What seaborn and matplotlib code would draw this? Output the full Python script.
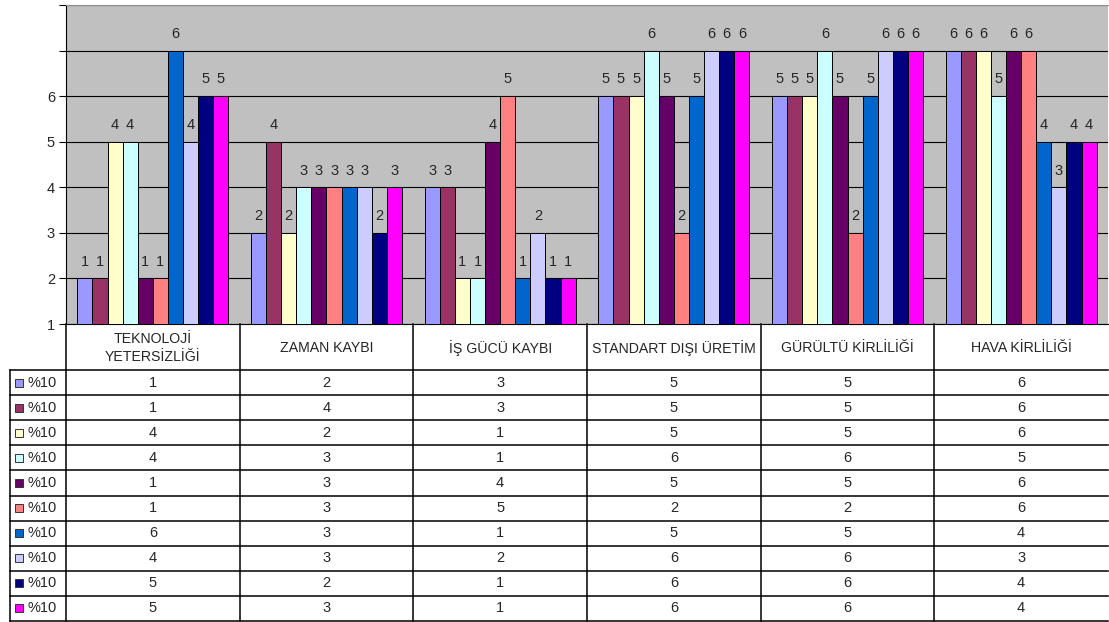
import pandas as pd
import numpy as np
import matplotlib
matplotlib.use('Agg')
import matplotlib.pyplot as plt
import seaborn as sns

# categories (table header / x groups)
categories = ['TEKNOLOJİ\nYETERSİZLİĞİ', 'ZAMAN KAYBI', 'İŞ GÜCÜ KAYBI',
              'STANDART DIŞI ÜRETİM', 'GÜRÜLTÜ KİRLİLİĞİ', 'HAVA KİRLİLİĞİ']

# ten series, all named "%10" in the legend column
series_names = ['%10'] * 10
s1 = [1, 2, 3, 5, 5, 6]
s2 = [1, 4, 3, 5, 5, 6]
s3 = [4, 2, 1, 5, 5, 6]
s4 = [4, 3, 1, 6, 6, 5]
s5 = [1, 3, 4, 5, 5, 6]
s6 = [1, 3, 5, 2, 2, 6]
s7 = [6, 3, 1, 5, 5, 4]
s8 = [4, 3, 2, 6, 6, 3]
s9 = [5, 2, 1, 6, 6, 4]
s10 = [5, 3, 1, 6, 6, 4]
series = [s1, s2, s3, s4, s5, s6, s7, s8, s9, s10]

colors = ['#9999FF', '#993366', '#FFFFCC', '#CCFFFF', '#660066',
          '#FF8080', '#0066CC', '#CCCCFF', '#000080', '#FF00FF']

# the value axis is shifted by one: a bar for value v reaches tick v+1
axis_offset = 1
ytick_labels = ['1', '2', '3', '4', '5', '6', '', '']

rows = []
for i, vals in enumerate(series):
    for c, v in zip(categories, vals):
        rows.append({'cat': c, 'ser': f's{i}', 'value': v, 'plot': v + axis_offset})
df = pd.DataFrame(rows)

plt.rcParams['font.family'] = ['Liberation Sans', 'DejaVu Sans']
txt = '#262626'

W, H = 1109, 622
fig = plt.figure(figsize=(W / 100, H / 100), dpi=100)
fig.patch.set_facecolor('white')

x0, x1 = 66, 1108
top, base = 5, 324
ax = fig.add_axes([x0 / W, 1 - base / H, (x1 - x0) / W, (base - top) / H])
ax.set_facecolor('#C0C0C0')

sns.barplot(data=df, x='cat', y='plot', hue='ser', order=categories,
            hue_order=[f's{i}' for i in range(10)], palette=colors,
            saturation=1, width=0.87, edgecolor='black', linewidth=0.7,
            legend=False, errorbar=None, ax=ax, zorder=3)

for i, cont in enumerate(ax.containers):
    ax.bar_label(cont, labels=[str(v) for v in series[i]], padding=7,
                 fontsize=10.5, color=txt)

ax.set_xlim(-0.5, len(categories) - 0.5)
ax.set_ylim(1, 8)
ax.set_yticks(range(1, 9))
ax.set_yticklabels(ytick_labels, fontsize=10.5, color=txt)
ax.yaxis.grid(True, color='black', linewidth=0.8, zorder=1)
ax.set_axisbelow(True)
ax.tick_params(axis='y', length=5, width=0.8, color='black', pad=3)
ax.tick_params(axis='x', bottom=False, labelbottom=False)
ax.set_xlabel('')
ax.set_ylabel('')
ax.spines['left'].set_color('black')
ax.spines['bottom'].set_color('black')
ax.spines['top'].set_color('#909090')
ax.spines['right'].set_visible(False)

# data table below, sharing the category positions
t_top, hdr_bot, t_bot = 324, 370, 621
tax = fig.add_axes([x0 / W, 1 - t_bot / H, (x1 - x0) / W, (t_bot - t_top) / H])
tax.set_xlim(ax.get_xlim())
tax.set_ylim(t_bot, t_top)
tax.axis('off')

col_px = (x1 - x0) / len(categories)
left_edge = -0.5 - 56 / col_px
row_h = (t_bot - hdr_bot) / len(series)

lk = dict(color='black', linewidth=1.1, clip_on=False)
for j in range(len(categories)):
    tax.plot([j - 0.5, j - 0.5], [t_top, t_bot], **lk)
tax.plot([left_edge, left_edge], [hdr_bot, t_bot], **lk)
tax.plot([left_edge, len(categories) - 0.5], [hdr_bot, hdr_bot], **lk)
for r in range(1, len(series) + 1):
    y = hdr_bot + r * row_h
    tax.plot([left_edge, len(categories) - 0.5], [y, y], **lk)

for j, c in enumerate(categories):
    tax.text(j, (t_top + hdr_bot) / 2 + 1, c, ha='center', va='center',
             fontsize=10.2, color=txt, linespacing=1.3)

for r, vals in enumerate(series):
    yc = hdr_bot + (r + 0.5) * row_h
    tax.add_patch(plt.Rectangle((left_edge + 5 / col_px, yc - 4), 8 / col_px, 8,
                                facecolor=colors[r], edgecolor='#333333',
                                linewidth=0.7, clip_on=False))
    tax.text(left_edge + 18 / col_px, yc, series_names[r], ha='left', va='center',
             fontsize=10.5, color=txt)
    for j, v in enumerate(vals):
        tax.text(j, yc, str(v), ha='center', va='center', fontsize=10.5, color=txt)

fig.savefig('out.png', dpi=100)
